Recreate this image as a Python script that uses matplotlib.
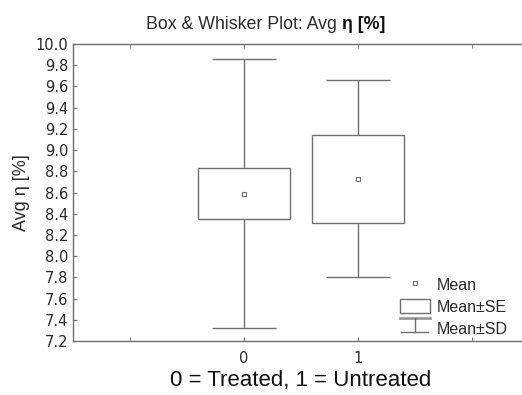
import matplotlib
matplotlib.use("Agg")
import matplotlib.pyplot as plt
from matplotlib.patches import Rectangle
from matplotlib.lines import Line2D
from matplotlib.legend_handler import HandlerBase

plt.rcParams["font.family"] = ["Liberation Sans", "DejaVu Sans"]

groups = [0, 1]
means = [8.59, 8.73]
se = [0.24, 0.415]
sd = [1.27, 0.93]
yticks = [7.2, 7.4, 7.6, 7.8, 8.0, 8.2, 8.4, 8.6, 8.8, 9.0, 9.2, 9.4, 9.6, 9.8, 10.0]

line_col = "#707070"
text_col = "#2a2a2a"


class SDHandler(HandlerBase):
    def create_artists(self, legend, orig, xd, yd, w, h, fontsize, trans):
        cx = xd + w / 2
        top = Line2D([xd, xd + w], [yd + h, yd + h], color="#9a9a9a", lw=2, transform=trans)
        stem = Line2D([cx, cx], [yd + h, yd], color=line_col, lw=1, transform=trans)
        cap = Line2D([xd + 0.05 * w, xd + 0.95 * w], [yd, yd], color=line_col, lw=1, transform=trans)
        return [top, stem, cap]


fig = plt.figure(figsize=(5.22, 3.95), dpi=100)
ax = fig.add_axes([0.1398, 0.1367, 0.8736, 0.7519])

box_w = 0.8
cap_w = 0.56
for g, m, s, d in zip(groups, means, se, sd):
    ax.vlines(g, m + s, m + d, color=line_col, lw=1)
    ax.vlines(g, m - d, m - s, color=line_col, lw=1)
    ax.hlines([m - d, m + d], g - cap_w / 2, g + cap_w / 2, color=line_col, lw=1)
    ax.add_patch(Rectangle((g - box_w / 2, m - s), box_w, 2 * s, fill=False, ec=line_col, lw=1))
ax.plot(groups, means, ls="none", marker="s", ms=3.4, mfc="white", mec=line_col, mew=0.8)

ax.set_xlim(-1.5, 2.5)
ax.set_ylim(7.2, 10.0)
ax.set_yticks(yticks)
ax.set_yticklabels([f"{v:.1f}" for v in yticks], family="DejaVu Sans")
ax.set_xticks(groups)
ax.set_xticklabels([str(g) for g in groups], family="DejaVu Sans")
ax.set_xticks([-1, 2], minor=True)
ax.tick_params(axis="both", direction="in", length=3, colors=line_col, labelcolor=text_col, labelsize=10.5,
               top=True, right=False)
ax.tick_params(axis="x", which="minor", direction="in", length=3, top=True, colors=line_col)
ax.tick_params(axis="y", pad=3.5)
ax.tick_params(axis="x", pad=7)
for sp in ax.spines.values():
    sp.set_color(line_col)
    sp.set_linewidth(1)

ax.set_xlabel("0 = Treated, 1 = Untreated", fontsize=16, color="#111111", labelpad=3)
ax.set_ylabel("Avg η [%]", fontsize=13, color=text_col, labelpad=4)

handles = [
    Line2D([], [], ls="none", marker="s", ms=3.4, mfc="white", mec=line_col, mew=0.8),
    Rectangle((0, 0), 1, 1, fill=False, ec=line_col, lw=1),
    Line2D([], [], color=line_col),
]
ax.legend(handles, ["Mean", "Mean±SE", "Mean±SD"], handler_map={handles[2]: SDHandler()},
          loc="upper left", bbox_to_anchor=(400 / 522, 1 - 277 / 395), bbox_transform=fig.transFigure,
          frameon=False, fontsize=11.5, handlelength=1.85, handleheight=1.0, handletextpad=0.45,
          labelspacing=0.4, borderpad=0, borderaxespad=0, labelcolor=text_col)

# title with bold tail
t1 = fig.text(146 / 522, 1 - 29 / 395, "Box & Whisker Plot: Avg ", fontsize=12.8, color=text_col, va="baseline")
fig.canvas.draw()
bb = t1.get_window_extent()
x2 = fig.transFigure.inverted().transform((bb.x1, bb.y0))[0]
fig.text(x2, 1 - 29 / 395, "η [%]", fontsize=12.8, color="#111111", fontweight="bold", va="baseline")

fig.savefig("out.png", dpi=100)
